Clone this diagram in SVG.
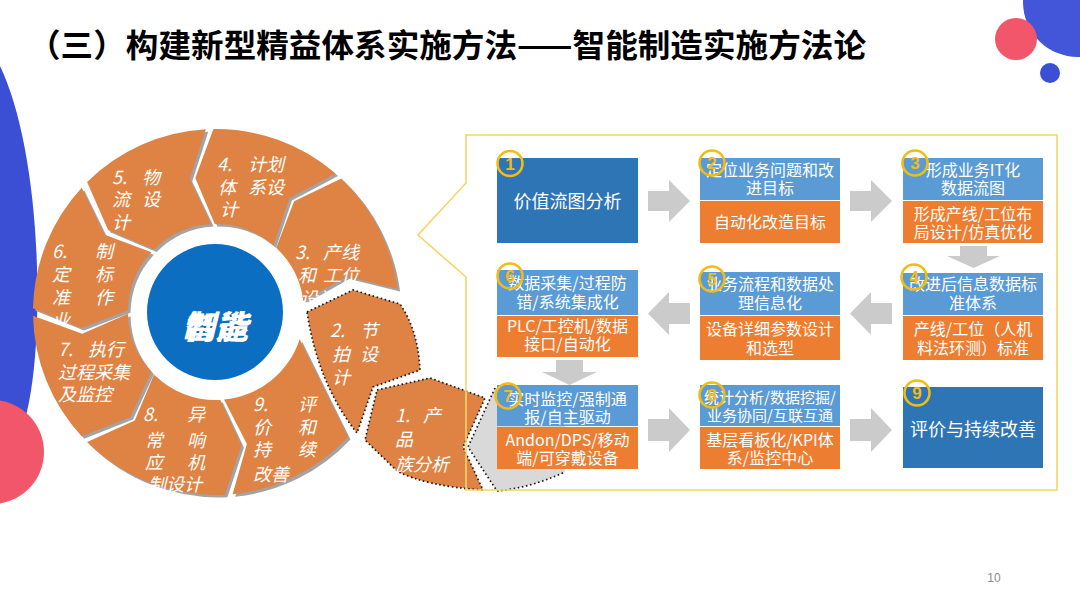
<svg xmlns="http://www.w3.org/2000/svg" xmlns:xlink="http://www.w3.org/1999/xlink" width="1080" height="608" viewBox="0 0 1080 608">
<style>
.title{font-family:"Noto Sans CJK SC","Liberation Sans",sans-serif;font-size:32px;font-weight:bold;fill:#000}
.seg{fill:#df8344}
.shd{fill:#a3a3a3}
.dot{fill:none;stroke:#1a1a1a;stroke-width:1.7;stroke-dasharray:1.6 2.6}
.st{font-family:"Noto Sans CJK SC","Liberation Sans",sans-serif;font-size:18px;fill:#fff;font-style:italic}
.bt{font-family:"Noto Sans CJK SC","Liberation Sans",sans-serif;font-size:16px;fill:#fff;text-anchor:middle}
.bt15{font-family:"Noto Sans CJK SC","Liberation Sans",sans-serif;font-size:15px;fill:#fff;text-anchor:middle}
.big{font-family:"Noto Sans CJK SC","Liberation Sans",sans-serif;font-size:18px;fill:#fff;text-anchor:middle}
.dk{fill:#2e75b6}
.lb{fill:#5b9bd5}
.or{fill:#ed7d31}
.arr{fill:#cbcbcb}
.nc{fill:none;stroke:#f2bc12;stroke-width:2.6}
.nt{font-family:"Liberation Sans",sans-serif;font-size:17px;font-weight:bold;fill:#f2bc12;text-anchor:middle}
</style>
<defs>
<path id="s3" d="M341.3,178.6 A183,183 0 0 1 397.6,289.1 L346.8,276.5 L303.3,301.0 A88,88 0 0 0 276.2,247.8 L294.1,201.3 Z"/>
<path id="s4" d="M213.4,129.0 A183,183 0 0 1 335.6,173.5 L289.4,198.1 L273.5,245.4 A88,88 0 0 0 214.8,224.0 L195.3,178.1 Z"/>
<path id="s5" d="M87.1,182.1 A183,183 0 0 1 205.8,129.3 L189.7,179.1 L211.1,224.1 A88,88 0 0 0 154.0,249.6 L108.1,230.1 Z"/>
<path id="s6" d="M33.0,308.2 A183,183 0 0 1 81.7,187.7 L104.7,234.7 L151.4,252.2 A88,88 0 0 0 128.0,310.2 L81.5,328.0 Z"/>
<path id="s7" d="M81.7,436.3 A183,183 0 0 1 33.0,315.8 L82.2,333.7 L128.0,313.8 A88,88 0 0 0 151.4,371.8 L130.4,417.0 Z"/>
<path id="s8" d="M224.9,494.8 A183,183 0 0 1 87.1,441.9 L134.8,420.5 L154.0,374.4 A88,88 0 0 0 220.3,399.9 L241.4,445.1 Z"/>
<path id="s9" d="M348,437 A183,183 0 0 1 232.6,494.2 L246.9,443.9 L224.0,399.6 A88,88 0 0 0 299.7,339.2 Z"/>
<path id="s2" d="M307,312 L353,290 L400,304 Q418,330 420,370 L373,387 L357,433 Q318,384 307,312 Z"/>
<path id="s1" d="M377,390 L430,378 L485,398 L463,447 L483,490 Q425,486 397,471 L365,440 Z"/>
</defs>

<!-- decorations -->
<g id="decor">
<path d="M0,66 C26,120 40,220 37,320 C35,390 25,440 0,480 Z" fill="#3b4fd4"/>
<circle cx="-8" cy="452" r="52" fill="#f2566b"/>
<circle cx="1078" cy="2" r="55" fill="#4355d8"/>
<circle cx="1016" cy="39" r="21" fill="#f2566b"/>
<circle cx="1050" cy="73" r="10" fill="#3b4fd4"/>
</g>

<text class="title" x="28" y="57" textLength="838" lengthAdjust="spacingAndGlyphs">（三）构建新型精益体系实施方法——智能制造实施方法论</text>

<!-- ring -->
<g id="ring-shadows">
<use xlink:href="#s4" href="#s4" class="shd" transform="translate(2.5,2.5)"/>
<use xlink:href="#s5" href="#s5" class="shd" transform="translate(2.5,2.5)"/>
<use xlink:href="#s6" href="#s6" class="shd" transform="translate(2.5,2.5)"/>
<use xlink:href="#s7" href="#s7" class="shd" transform="translate(2.5,2.5)"/>
<use xlink:href="#s8" href="#s8" class="shd" transform="translate(2.5,2.5)"/>
<use xlink:href="#s9" href="#s9" class="shd" transform="translate(2.5,2.5)"/>
<use xlink:href="#s3" href="#s3" class="shd" transform="translate(2.5,2.5)"/>
</g>

<g id="node-hidden">
<path d="M495,388 L468,447 L497,491 Q530,488 565,472 L565,388 Z" fill="#d9d9d9"/>
<path d="M495,388 L468,447 L497,491 Q530,488 565,472" class="dot"/>
</g>

<g id="node-s4">
<use xlink:href="#s4" href="#s4" class="seg"/>
<text class="st"><tspan x="217" y="171">4.</tspan><tspan x="248" y="171">计划</tspan><tspan x="218" y="194">体</tspan><tspan x="248" y="194">系设</tspan><tspan x="220" y="216">计</tspan></text>
</g>
<g id="node-s5">
<use xlink:href="#s5" href="#s5" class="seg"/>
<text class="st"><tspan x="112" y="184">5.</tspan><tspan x="142" y="184">物</tspan><tspan x="112" y="206">流</tspan><tspan x="142" y="206">设</tspan><tspan x="112" y="229">计</tspan></text>
</g>
<g id="node-s6">
<use xlink:href="#s6" href="#s6" class="seg"/>
<text class="st"><tspan x="52" y="258">6.</tspan><tspan x="95" y="258">制</tspan><tspan x="52" y="281">定</tspan><tspan x="95" y="281">标</tspan><tspan x="52" y="304">准</tspan><tspan x="95" y="304">作</tspan><tspan x="52" y="327">业</tspan></text>
</g>
<g id="node-s7">
<use xlink:href="#s7" href="#s7" class="seg"/>
<text class="st"><tspan x="58" y="356">7.</tspan><tspan x="88" y="356">执行</tspan><tspan x="58" y="379">过程采集</tspan><tspan x="58" y="401">及监控</tspan></text>
</g>
<g id="node-s8">
<use xlink:href="#s8" href="#s8" class="seg"/>
<text class="st"><tspan x="143" y="421">8.</tspan><tspan x="187" y="421">异</tspan><tspan x="145" y="447">常</tspan><tspan x="187" y="447">响</tspan><tspan x="145" y="469">应</tspan><tspan x="187" y="469">机</tspan><tspan x="148" y="491">制设计</tspan></text>
</g>
<g id="node-s9">
<use xlink:href="#s9" href="#s9" class="seg"/>
<text class="st"><tspan x="253" y="411">9.</tspan><tspan x="298" y="411">评</tspan><tspan x="253" y="434">价</tspan><tspan x="298" y="434">和</tspan><tspan x="253" y="456">持</tspan><tspan x="298" y="456">续</tspan><tspan x="253" y="481">改善</tspan></text>
</g>
<g id="node-s3">
<use xlink:href="#s3" href="#s3" class="seg"/>
<text class="st"><tspan x="295" y="259">3.</tspan><tspan x="323" y="259">产线</tspan><tspan x="298" y="282">和</tspan><tspan x="323" y="282">工位</tspan><tspan x="300" y="305">设计</tspan></text>
</g>
<g id="node-s2">
<use xlink:href="#s2" href="#s2" class="seg"/>
<use xlink:href="#s2" href="#s2" class="dot"/>
<text class="st"><tspan x="330" y="337">2.</tspan><tspan x="360" y="337">节</tspan><tspan x="332" y="361">拍</tspan><tspan x="360" y="361">设</tspan><tspan x="332" y="384">计</tspan></text>
</g>
<g id="node-s1">
<use xlink:href="#s1" href="#s1" class="seg"/>
<use xlink:href="#s1" href="#s1" class="dot"/>
<text class="st"><tspan x="395" y="422">1.</tspan><tspan x="423" y="422">产</tspan><tspan x="395" y="446">品</tspan><tspan x="395" y="471">族分析</tspan></text>
</g>

<g id="node-center">
<circle cx="215" cy="312" r="68" fill="#0b6ec0"/>
<text x="215" y="339" font-family="Noto Sans CJK SC, sans-serif" font-size="33" font-weight="bold" font-style="italic" fill="#fff" text-anchor="middle">制造</text>
<text x="215" y="339" font-family="Noto Sans CJK SC, sans-serif" font-size="33" font-weight="bold" font-style="italic" fill="#fff" text-anchor="middle">智能</text>
</g>

<!-- panel frame -->
<g id="frame">
<path d="M466,183 V135 H1057 V490 H466 V277 L418,235 Z" fill="none" stroke="#f5d565" stroke-width="1.6"/>
</g>

<g id="connectors">
<path class="arr" d="M648,191 H669 V180 L690,201 L669,222 V211 H648 Z"/>
<path class="arr" d="M850,191 H871 V180 L892,201 L871,222 V211 H850 Z"/>
<path class="arr" d="M960,246 H987 V256 H1000 L973.5,268 L947,256 H960 Z"/>
<path class="arr" d="M892,303 H871 V292 L850,313.5 L871,335 V324 H892 Z"/>
<path class="arr" d="M690,303 H669 V292 L648,313.5 L669,335 V324 H690 Z"/>
<path class="arr" d="M556,360 H583 V372 H597 L569.5,385 L542,372 H556 Z"/>
<path class="arr" d="M648,419 H669 V408 L690,430 L669,452 V441 H648 Z"/>
<path class="arr" d="M850,419 H871 V408 L892,430 L871,452 V441 H850 Z"/>
</g>

<g id="box1">
<rect class="dk" x="497" y="158" width="141" height="85"/>
<text class="big" x="567.5" y="208">价值流图分析</text>
<circle class="nc" cx="510" cy="163.5" r="12.5"/><text class="nt" x="510" y="169.5">1</text>
</g>
<g id="box2">
<rect class="lb" x="700" y="158" width="140" height="42"/>
<rect class="or" x="700" y="201" width="140" height="42"/>
<text class="bt" x="770" y="176">定位业务问题和改</text>
<text class="bt" x="770" y="194">进目标</text>
<text class="bt" x="770" y="228">自动化改造目标</text>
<circle class="nc" cx="712" cy="163" r="12.5"/><text class="nt" x="712" y="169">2</text>
</g>
<g id="box3">
<rect class="lb" x="903" y="158" width="140" height="42"/>
<rect class="or" x="903" y="201" width="140" height="42"/>
<text class="bt" x="973" y="176">形成业务IT化</text>
<text class="bt" x="973" y="194">数据流图</text>
<text class="bt" x="973" y="220">形成产线/工位布</text>
<text class="bt" x="973" y="238">局设计/仿真优化</text>
<circle class="nc" cx="915" cy="163" r="12.5"/><text class="nt" x="915" y="169">3</text>
</g>
<g id="box4">
<rect class="lb" x="903" y="273" width="140" height="42"/>
<rect class="or" x="903" y="316" width="140" height="44"/>
<text class="bt" x="973" y="290">改进后信息数据标</text>
<text class="bt" x="973" y="309">准体系</text>
<text class="bt" x="973" y="335">产线/工位（人机</text>
<text class="bt" x="973" y="354">料法环测）标准</text>
<circle class="nc" cx="914" cy="277" r="12.5"/><text class="nt" x="914" y="283">4</text>
</g>
<g id="box5">
<rect class="lb" x="700" y="272" width="140" height="43"/>
<rect class="or" x="700" y="316" width="140" height="44"/>
<text class="bt" x="770" y="290">业务流程和数据处</text>
<text class="bt" x="770" y="309">理信息化</text>
<text class="bt" x="770" y="335">设备详细参数设计</text>
<text class="bt" x="770" y="354">和选型</text>
<circle class="nc" cx="712" cy="279" r="12.5"/><text class="nt" x="712" y="285">5</text>
</g>
<g id="box6">
<rect class="lb" x="497" y="270" width="141" height="45"/>
<rect class="or" x="497" y="316" width="141" height="41"/>
<text class="bt" x="567.5" y="289">数据采集/过程防</text>
<text class="bt" x="567.5" y="308">错/系统集成化</text>
<text class="bt" x="567.5" y="332">PLC/工控机/数据</text>
<text class="bt" x="567.5" y="350">接口/自动化</text>
<circle class="nc" cx="510" cy="276" r="12.5"/><text class="nt" x="510" y="282">6</text>
</g>
<g id="box7">
<rect class="lb" x="497" y="385" width="141" height="41"/>
<rect class="or" x="497" y="427" width="141" height="42"/>
<text class="bt" x="567.5" y="405">实时监控/强制通</text>
<text class="bt" x="567.5" y="423">报/自主驱动</text>
<text class="bt" x="567.5" y="446">Andon/DPS/移动</text>
<text class="bt" x="567.5" y="464">端/可穿戴设备</text>
<circle class="nc" cx="508" cy="396" r="12.5"/><text class="nt" x="508" y="402">7</text>
</g>
<g id="box8">
<rect class="lb" x="700" y="385" width="140" height="41"/>
<rect class="or" x="700" y="427" width="140" height="42"/>
<text class="bt15" x="770" y="403">统计分析/数据挖掘/</text>
<text class="bt15" x="770" y="421">业务协同/互联互通</text>
<text class="bt" x="770" y="446">基层看板化/KPI体</text>
<text class="bt" x="770" y="464">系/监控中心</text>
<circle class="nc" cx="712" cy="395" r="12.5"/><text class="nt" x="712" y="401">8</text>
</g>
<g id="box9">
<rect class="dk" x="903" y="387" width="140" height="81"/>
<text class="big" x="973" y="436">评价与持续改善</text>
<circle class="nc" cx="917" cy="393" r="12.5"/><text class="nt" x="917" y="399">9</text>
</g>

<text x="994" y="582" font-family="Liberation Sans, sans-serif" font-size="12" fill="#8c8c8c" text-anchor="middle">10</text>
</svg>
